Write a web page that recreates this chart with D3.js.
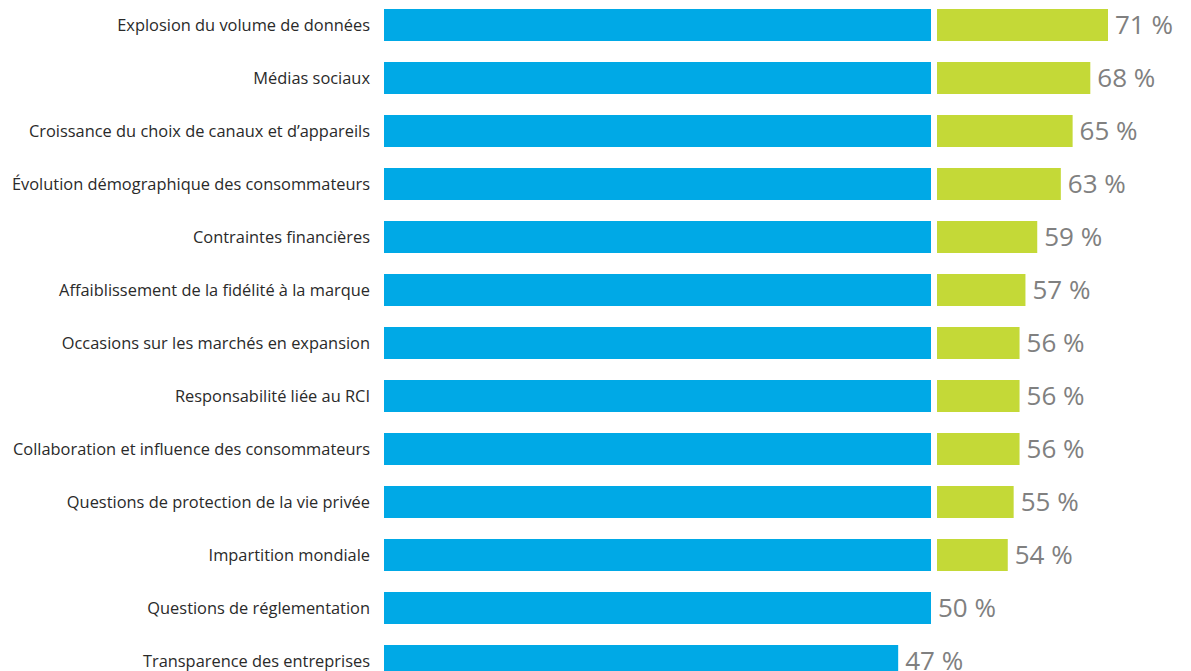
<!DOCTYPE html>
<html>
<head>
<meta charset="utf-8">
<script src="https://cdn.jsdelivr.net/npm/d3@7"></script>
<style>
  body { margin: 0; background: #fff; }
  svg { display: block; }
</style>
</head>
<body>
<div id="app"></div>
<script>
;(() => {
  // categories, top to bottom
  const categories = [
    'Explosion du volume de données',
    'Médias sociaux',
    'Croissance du choix de canaux et d’appareils',
    'Évolution démographique des consommateurs',
    'Contraintes financières',
    'Affaiblissement de la fidélité à la marque',
    'Occasions sur les marchés en expansion',
    'Responsabilité liée au RCI',
    'Collaboration et influence des consommateurs',
    'Questions de protection de la vie privée',
    'Impartition mondiale',
    'Questions de réglementation',
    'Transparence des entreprises'
  ]
  const values = [71, 68, 65, 63, 59, 57, 56, 56, 56, 55, 54, 50, 47]
  const threshold = 50

  const width = 1191
  const height = 671

  const data = categories.map((c, i) => ({ name: c, value: values[i] }))

  const svg = d3
    .create('svg')
    .attr('width', width)
    .attr('height', height)

  const y_scale = d3
    .scaleBand()
    .domain(categories)
    .range([9, 677])
    .paddingInner(21 / 53)
    .paddingOuter(0)

  // blue part: up to 50 %
  const x_blue = d3.scaleLinear().domain([0, threshold]).range([384, 931])
  // green part: what goes past 50 %, drawn after a small gap
  const x_green = d3.scaleLinear().domain([42, 71]).range([937, 1108])

  const row = svg.append('g').selectAll('g').data(data).join('g')
    .attr('transform', (d) => `translate(0,${y_scale(d.name)})`)

  row.append('rect')
    .attr('x', x_blue(0))
    .attr('width', (d) => x_blue(Math.min(d.value, threshold)) - x_blue(0))
    .attr('height', y_scale.bandwidth())
    .attr('fill', '#00a9e6')

  row.filter((d) => d.value > threshold)
    .append('rect')
    .attr('x', x_green.range()[0])
    .attr('width', (d) => x_green(d.value) - x_green.range()[0])
    .attr('height', y_scale.bandwidth())
    .attr('fill', '#c4d937')

  row.append('text')
    .attr('x', 370)
    .attr('y', y_scale.bandwidth() / 2)
    .attr('dy', '0.35em')
    .attr('text-anchor', 'end')
    .attr('font-family', '"Open Sans", "Noto Sans", sans-serif')
    .attr('font-size', 16.4)
    .attr('fill', '#2a2a2a')
    .text((d) => d.name)

  row.append('text')
    .attr('x', (d) => (d.value > threshold ? x_green(d.value) : x_blue(d.value)) + 7)
    .attr('y', y_scale.bandwidth() / 2)
    .attr('dy', '0.36em')
    .attr('font-family', '"Open Sans", "Noto Sans", sans-serif')
    .attr('font-size', 26)
    .attr('fill', '#808080')
    .text((d) => `${d.value} %`)

  d3.select('#app').append(() => svg.node())
})()
</script>
</body>
</html>
